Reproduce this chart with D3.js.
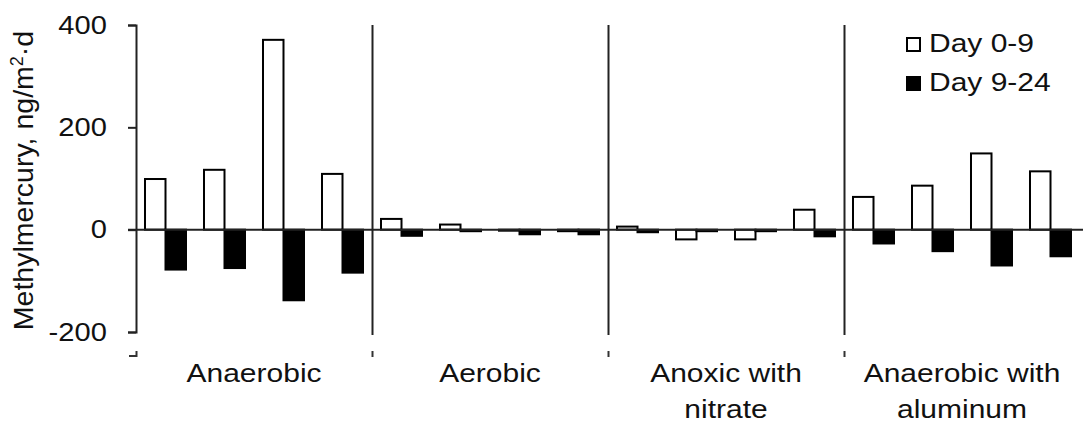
<!DOCTYPE html>
<html>
<head>
<meta charset="utf-8">
<script src="https://cdn.jsdelivr.net/npm/d3@7"></script>
<style>
  body { margin: 0; background: #fff; }
  svg { display: block; }
</style>
</head>
<body>
<div id="chart"></div>
<script>
// Chart data
const groups = ["Anaerobic", "Aerobic", "Anoxic with nitrate", "Anaerobic with aluminum"];
const groupLines = [["Anaerobic"], ["Aerobic"], ["Anoxic with", "nitrate"], ["Anaerobic with", "aluminum"]];
const replicates = ["1", "2", "3", "4"];
const seriesNames = ["Day 0-9", "Day 9-24"];
const day0to9 = [99, 117, 371, 109, 21, 10, -2, -3, 6, -19, -19, 39, 64, 86, 149, 114];
const day9to24 = [-78, -75, -138, -84, -12, -3, -9, -9, -5, -3, -3, -13, -27, -42, -70, -52];
const yTicks = [-200, 0, 200, 400];

const width = 1083;
const height = 423;
const font = "'Liberation Sans', Arial, sans-serif";

// Build rows: one per group/replicate
const rows = [];
groups.forEach((g, gi) => {
  replicates.forEach((r, ri) => {
    const i = gi * replicates.length + ri;
    rows.push({group: g, rep: r, values: [day0to9[i], day9to24[i]]});
  });
});

const svg = d3.select("#chart").append("svg")
  .attr("width", width)
  .attr("height", height)
  .style("font-family", font);

// Scales
const x0 = d3.scaleBand().domain(groups).range([136, 1080]);
const x1 = d3.scaleBand().domain(replicates).range([0, x0.bandwidth()])
  .paddingInner(0.305).paddingOuter(0.1525);
const x2 = d3.scaleBand().domain(seriesNames).range([0, x1.bandwidth()]);
const y = d3.scaleLinear().domain([-200, 400]).range([332, 25]);

// Group separators
svg.append("g")
  .selectAll("line")
  .data(groups.slice(1))
  .join("line")
    .attr("x1", d => Math.round(x0(d)) + 0.5)
    .attr("x2", d => Math.round(x0(d)) + 0.5)
    .attr("y1", y(400))
    .attr("y2", 335)
    .attr("stroke", "#222")
    .attr("stroke-width", 2);

// Bars
const fills = ["#fff", "#000"];
const bar = svg.append("g")
  .selectAll("g")
  .data(rows)
  .join("g")
    .attr("transform", d => `translate(${x0(d.group) + x1(d.rep)},0)`);

bar.selectAll("rect")
  .data(d => d.values.map((v, k) => ({v, k})))
  .join("rect")
    .attr("x", d => x2(seriesNames[d.k]))
    .attr("y", d => y(Math.max(0, d.v)))
    .attr("width", x2.bandwidth())
    .attr("height", d => Math.abs(y(d.v) - y(0)))
    .attr("fill", d => fills[d.k])
    .attr("stroke", "#000")
    .attr("stroke-width", 2);

// Zero line
svg.append("line")
  .attr("x1", 128).attr("x2", width)
  .attr("y1", y(0)).attr("y2", y(0))
  .attr("stroke", "#222")
  .attr("stroke-width", 2);

// Y axis
const yAxis = svg.append("g")
  .attr("transform", "translate(136,0)")
  .call(d3.axisLeft(y).tickValues(yTicks).tickSize(8).tickPadding(18)
    .tickFormat(d => String(d)));
yAxis.select(".domain").attr("stroke", "#222").attr("stroke-width", 2);
yAxis.selectAll(".tick line").attr("stroke", "#222").attr("stroke-width", 2);
yAxis.selectAll(".tick text")
  .attr("fill", "#111")
  .style("font-family", font)
  .style("font-size", "26px")
  .attr("transform", "scale(1.12,1)");

// Y axis title
svg.append("text")
  .attr("transform", `translate(33,${(y(400) + y(-200)) / 2 + 2}) rotate(-90)`)
  .attr("text-anchor", "middle")
  .attr("fill", "#111")
  .style("font-size", "28.5px")
  .call(t => {
    t.append("tspan").text("Methylmercury, ng/m");
    t.append("tspan").attr("dy", -10).style("font-size", "18px").text("2");
    t.append("tspan").attr("dy", 10).text("·d");
  });

// Category ticks at the bottom
const bottomTicks = groups.map(g => x0(g));
svg.append("g")
  .selectAll("line")
  .data(bottomTicks)
  .join("line")
    .attr("x1", d => Math.round(d) + 0.5)
    .attr("x2", d => Math.round(d) + 0.5)
    .attr("y1", 351)
    .attr("y2", 357)
    .attr("stroke", "#333")
    .attr("stroke-width", 2);
svg.append("line")
  .attr("x1", 129).attr("x2", 137)
  .attr("y1", 356).attr("y2", 356)
  .attr("stroke", "#333").attr("stroke-width", 2);

// Category labels
const catLabel = svg.append("g")
  .selectAll("text")
  .data(groups)
  .join("text")
    .attr("transform", d => `translate(${x0(d) + x0.bandwidth() / 2},382) scale(1.2,1)`)
    .attr("text-anchor", "middle")
    .attr("fill", "#111")
    .style("font-size", "25px");
catLabel.selectAll("tspan")
  .data((d, i) => groupLines[i])
  .join("tspan")
    .attr("x", 0)
    .attr("y", (d, i) => i * 36)
    .text(d => d);

// Legend
const legend = svg.append("g")
  .selectAll("g")
  .data(seriesNames)
  .join("g")
    .attr("transform", (d, i) => `translate(906,${37 + i * 39})`);
legend.append("rect")
  .attr("x", 1).attr("y", 1)
  .attr("width", 13).attr("height", 13)
  .attr("fill", (d, i) => fills[i])
  .attr("stroke", "#000")
  .attr("stroke-width", 2);
legend.append("text")
  .attr("transform", "translate(23,15) scale(1.2,1)")
  .attr("fill", "#111")
  .style("font-size", "25px")
  .text(d => d);
</script>
</body>
</html>
